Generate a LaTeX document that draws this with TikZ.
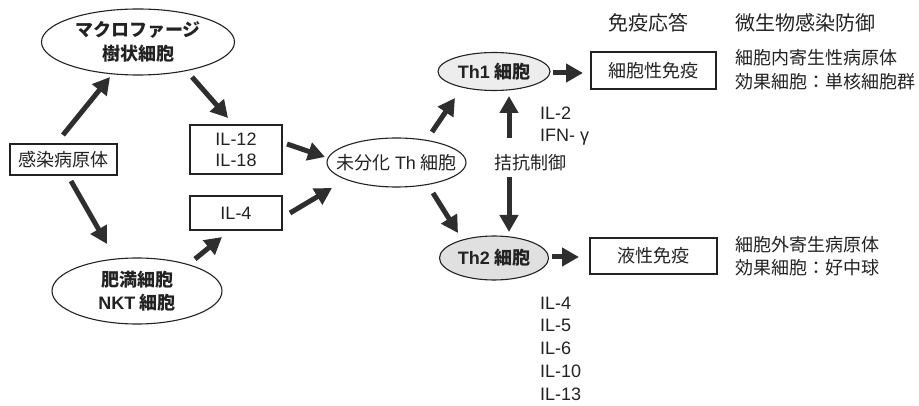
\documentclass[tikz,border=0pt]{standalone}
\usepackage{fontspec}
\setmainfont{Noto Sans CJK JP}
\newfontfamily\lat{Liberation Sans}
\usetikzlibrary{shapes.geometric,arrows.meta}
\definecolor{ink}{HTML}{222222}
\definecolor{arrowc}{HTML}{2E2E2E}
\begin{document}
\begin{tikzpicture}[x=1pt,y=-1pt,
  font=\fontsize{18}{23}\selectfont,
  box/.style={draw=ink, line width=1.1pt, inner sep=0pt, text=ink},
  ell/.style={ellipse, draw=ink, line width=1.1pt, inner sep=0pt},
  txt/.style={text=ink, inner sep=0pt},
  head/.style={txt, font=\fontsize{20}{24}\selectfont},
  arr/.style={draw=arrowc, line width=5pt, -{Triangle[length=17pt,width=18pt]}}]
\useasboundingbox (0,0) rectangle (919,406);

% nodes
\node[ell, minimum width=193pt, minimum height=66pt,
  label={[txt, align=center, font=\fontsize{18}{24}\selectfont\bfseries]center:マクロファージ\\樹状細胞}] (mac) at (138,42) {};
\node[box, minimum width=107pt, minimum height=31pt] (src) at (63.5,159.5) {感染病原体};
\node[box, minimum width=92pt, minimum height=49pt, align=center, font=\lat\fontsize{18}{21}\selectfont] (il12) at (236,149.5) {IL-12\\IL-18};
\node[box, minimum width=92pt, minimum height=34pt, font=\lat\fontsize{18}{21}\selectfont] (il4) at (236,213) {IL-4};
\node[ell, minimum width=170pt, minimum height=66pt,
  label={[txt, align=center, font=\fontsize{18}{23}\selectfont\bfseries]center:肥満細胞\\{\lat NKT} 細胞}] (mast) at (137,291) {};
\node[ell, minimum width=139pt, minimum height=49pt,
  label={[txt]center:未分化 {\lat Th} 細胞}] (naive) at (396.5,162.5) {};
\node[ell, fill=gray!14, minimum width=112pt, minimum height=38pt,
  label={[txt, font=\fontsize{18}{23}\selectfont\bfseries]center:{\lat Th1} 細胞}] (th1) at (494,71.5) {};
\node[ell, fill=gray!24, minimum width=109pt, minimum height=44pt,
  label={[txt, font=\fontsize{18}{23}\selectfont\bfseries]center:{\lat Th2} 細胞}] (th2) at (494,258) {};
\node[box, minimum width=125pt, minimum height=37pt] (cell) at (653.5,70.5) {細胞性免疫};
\node[box, minimum width=127pt, minimum height=36pt] (humoral) at (653.5,256) {液性免疫};

\node[head] (h1) at (648,23) {免疫応答};
\node[head] (h2) at (805,23) {微生物感染防御};
\node[txt, anchor=west, align=left, font=\fontsize{18}{24}\selectfont] (intra) at (735,70) {細胞内寄生性病原体\\効果細胞：単核細胞群};
\node[txt, anchor=west, align=left, font=\fontsize{18}{23}\selectfont] (extra) at (735,256.5) {細胞外寄生病原体\\効果細胞：好中球};
\node[txt, anchor=west, align=left, font=\lat\fontsize{18}{22}\selectfont] (th1cyt) at (540,126) {IL-2\\IFN- γ};
\node[txt] (anta) at (530,163) {拮抗制御};
\node[txt, anchor=west, align=left, font=\lat\fontsize{18}{22.7}\selectfont] (th2cyt) at (540,348.5) {IL-4\\IL-5\\IL-6\\IL-10\\IL-13};

% arrow end points
\coordinate (a1s) at (63,135);  \coordinate (a1e) at (110,77);
\coordinate (a2s) at (192,77);  \coordinate (a2e) at (228,118);
\coordinate (a3s) at (71,181);  \coordinate (a3e) at (107,244);
\coordinate (a4s) at (195,259); \coordinate (a4e) at (222,237);
\coordinate (a5s) at (287,144); \coordinate (a5e) at (325,157);
\coordinate (a6s) at (290,213); \coordinate (a6e) at (332,188);
\coordinate (a7s) at (432,132); \coordinate (a7e) at (455,98);
\coordinate (a8s) at (433,193); \coordinate (a8e) at (458,233);
\coordinate (a9s) at (553,73);  \coordinate (a9e) at (583,73);
\coordinate (a10s) at (552,257); \coordinate (a10e) at (579,257);
\coordinate (a11s) at (509,138); \coordinate (a11e) at (509,96);
\coordinate (a12s) at (509,177); \coordinate (a12e) at (509,232);

\foreach \i in {1,...,12} {\draw[arr] (a\i s) -- (a\i e);}
\end{tikzpicture}
\end{document}
